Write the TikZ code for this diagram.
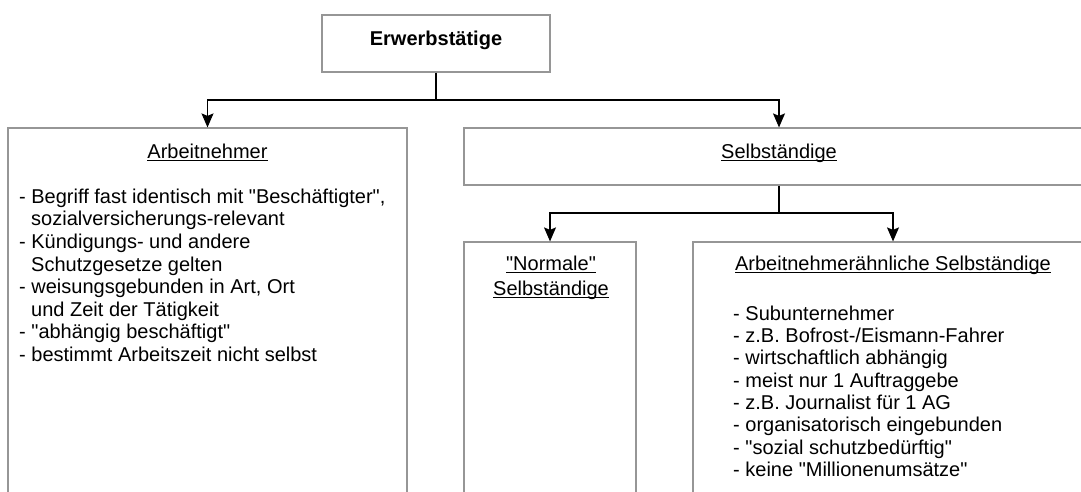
\documentclass[tikz,border=0pt]{standalone}
\usepackage{fontspec}
\setmainfont{Liberation Sans}[Ligatures=TeXOff]
\usetikzlibrary{arrows.meta}
\definecolor{boxgray}{RGB}{150,150,150}
\newcommand\ulx[1]{\setbox0\hbox{#1}\rlap{\rule[-2.8pt]{\wd0}{1.2pt}}\box0}
\newcommand\qd{\char34\relax}
\tikzset{
  box/.style={draw=boxgray, line width=1.2pt, fill=white, rectangle, inner sep=0pt},
  conn/.style={draw=black, line width=1.1pt},
  arr/.style={conn, -{Stealth[length=14pt,width=12pt,inset=2.5pt]}},
  ttl/.style={anchor=base, inner sep=0pt, font=\fontsize{20}{24}\selectfont},
  blist/.style={anchor=north west, inner sep=0pt, align=left},
}
\begin{document}
\begin{tikzpicture}[x=1pt,y=-1pt]
\useasboundingbox (0,0) rectangle (1081,492);
\clip (0,0) rectangle (1081,492);
\fill[white] (0,0) rectangle (1081,492);
% boxes
\node[box, minimum width=228pt, minimum height=57pt] (top) at (436,43.5) {};
\node[box, minimum width=399pt, minimum height=400pt] (arb) at (207.5,328) {};
\node[box, minimum width=630pt, minimum height=57pt] (selb) at (779,156.5) {};
\node[box, minimum width=172pt, minimum height=300pt] (norm) at (550,392) {};
\node[box, minimum width=400pt, minimum height=300pt] (aes) at (893,392) {};
% texts
\node[ttl, font=\fontsize{20}{24}\selectfont\bfseries] (ttop) at (436,45.5) {Erwerbstätige};
\node[ttl] (tarb) at (207.5,158) {\ulx{Arbeitnehmer}};
\node[ttl] (tselb) at (779,158) {\ulx{Selbständige}};
\node[ttl] (tnorm1) at (551,270) {\ulx{\qd Normale\qd}};
\node[ttl] (tnorm2) at (551,295) {\ulx{Selbständige}};
\node[ttl] (taes) at (893,270) {\ulx{Arbeitnehmerähnliche Selbständige}};
\node[blist, font=\fontsize{20}{22.6}\selectfont] (larb) at (19,188) {\rule{0pt}{15pt}- Begriff fast identisch mit \qd Beschäftigter\qd,\\
\hspace*{12pt}sozialversicherungs-relevant\\
- Kündigungs- und andere\\
\hspace*{12pt}Schutzgesetze gelten\\
- weisungsgebunden in Art, Ort\\
\hspace*{12pt}und Zeit der Tätigkeit\\
- \qd abhängig beschäftigt\qd\\
- bestimmt Arbeitszeit nicht selbst};
\node[blist, font=\fontsize{20}{22.3}\selectfont] (laes) at (733,305) {\rule{0pt}{15pt}- Subunternehmer\\
- z.B. Bofrost-/Eismann-Fahrer\\
- wirtschaftlich abhängig\\
- meist nur 1 Auftraggebe\\
- z.B. Journalist für 1 AG\\
- organisatorisch eingebunden\\
- \qd sozial schutzbedürftig\qd\\
- keine \qd Millionenumsätze\qd};
% connectors
\coordinate (j1) at (436,100);
\coordinate (j2) at (779,213);
\draw[conn] (top.south) -- (j1);
\draw[arr] (j1) -| (arb.north);
\draw[arr] (j1) -| (selb.north);
\draw[conn] (selb.south) -- (j2);
\draw[arr] (j2) -| (norm.north);
\draw[arr] (j2) -| (aes.north);
\end{tikzpicture}
\end{document}
